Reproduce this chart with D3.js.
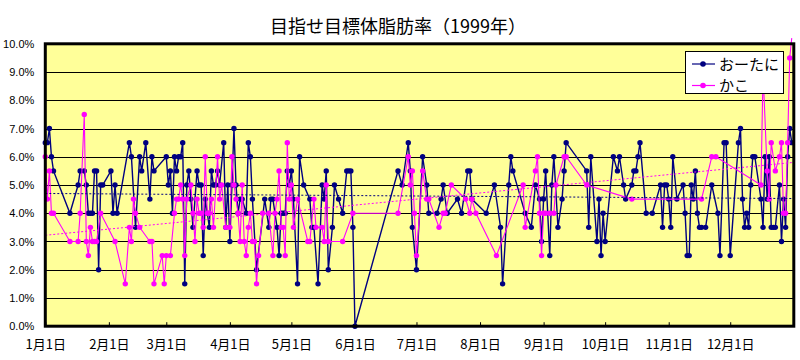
<!DOCTYPE html>
<html><head><meta charset="utf-8">
<script src="https://cdn.jsdelivr.net/npm/d3@7"></script>
<style>body{margin:0;background:#fff}</style>
</head><body>
<svg id="c" width="800" height="360"></svg>
<script>
const title = "目指せ目標体脂肪率（1999年）";
const seriesNames = ["おーたに", "かこ"];
const monthLabels = ["1月1日","2月1日","3月1日","4月1日","5月1日","6月1日","7月1日","8月1日","9月1日","10月1日","11月1日","12月1日"];
const yTicks = [0,1,2,3,4,5,6,7,8,9,10];

// day offsets from 1999-01-01, values in %
const otaniDays = [0,1,2,3,4,12,16,17,19,20,21,22,23,24,25,26,27,28,32,33,34,35,41,42,44,46,47,49,51,52,53,59,60,61,62,63,64,65,66,67,68,69,70,71,72,74,75,76,77,78,79,80,81,82,83,84,85,87,88,89,90,91,92,93,94,95,96,98,99,100,101,103,107,109,110,111,113,114,115,116,117,118,119,120,121,123,124,126,129,130,131,133,135,136,137,138,140,141,143,145,147,148,149,150,151,172,174,177,178,179,181,184,186,187,191,193,194,196,201,203,206,207,208,215,219,222,223,226,227,228,234,237,239,241,242,243,244,246,247,248,250,252,253,254,264,265,266,269,270,271,272,273,277,279,280,282,283,286,287,288,289,290,293,296,300,301,302,303,304,305,306,308,311,312,313,314,315,316,317,318,319,320,322,325,328,329,331,332,334,338,339,340,341,342,343,344,345,346,349,350,351,352,353,354,355,356,358,359,360,361,362,363,364];
const otaniVals = [6.5,6.5,7.0,6.0,5.5,4.0,5.0,5.5,5.5,5.0,4.0,4.0,4.0,5.5,5.5,2.0,5.0,5.0,5.5,4.0,5.0,4.0,6.5,6.0,3.5,6.0,5.5,6.5,4.5,6.0,5.5,6.0,5.0,5.5,4.0,6.0,5.5,6.0,6.0,6.5,1.5,5.0,5.5,4.5,3.5,5.5,5.0,5.0,2.5,4.5,4.0,3.5,5.5,5.0,5.0,5.5,5.0,6.5,3.5,5.0,3.0,5.0,7.0,5.0,4.0,4.5,4.5,4.0,6.5,6.0,4.5,2.0,4.5,3.5,4.5,4.5,3.5,2.5,4.0,4.0,4.0,5.5,5.0,5.5,4.5,1.5,6.0,5.0,4.5,3.5,3.5,1.5,5.0,4.5,5.5,2.0,3.5,5.0,4.5,4.0,5.5,5.5,5.5,3.5,0.0,5.5,5.0,6.5,5.5,3.5,2.0,6.0,5.0,4.0,4.0,4.5,5.0,4.0,4.5,4.0,5.5,5.5,4.5,4.0,5.0,3.5,1.5,5.0,6.0,5.5,4.0,3.5,5.0,4.5,3.0,4.5,5.5,2.5,5.0,6.0,3.5,4.5,5.5,6.5,5.5,3.5,6.0,3.0,4.5,2.5,4.0,3.0,6.0,5.5,6.0,5.0,4.5,5.0,5.5,5.5,6.0,6.5,4.0,4.0,5.0,3.5,5.0,5.0,4.5,3.5,6.0,4.5,5.0,4.0,2.5,2.5,5.0,4.5,5.5,4.0,3.5,3.5,3.5,5.0,4.0,2.5,6.5,6.5,2.5,6.5,7.0,4.5,3.5,4.0,3.5,5.0,6.0,6.0,4.5,3.5,6.0,4.5,6.0,3.5,3.5,3.5,5.0,3.0,4.5,3.5,6.0,7.0,6.5];

const kakoDays = [0,1,2,3,4,12,16,17,19,20,21,22,23,24,25,27,34,39,41,42,43,44,46,51,52,53,57,58,59,61,63,64,65,66,67,68,69,71,72,73,74,75,76,77,78,79,80,81,82,84,85,86,88,90,91,92,93,94,95,96,97,98,99,100,101,102,103,104,106,109,111,112,113,114,115,116,117,118,119,120,121,123,128,129,131,132,135,136,137,138,145,150,172,177,178,179,180,181,184,186,187,192,194,195,198,205,207,208,210,220,233,234,239,240,241,242,243,244,246,248,249,253,254,264,286,320,325,327,349,350,352,353,354,356,358,359,360,361,362,363,364];
const kakoVals = [6.0,4.5,5.5,4.0,4.0,3.0,3.0,4.0,7.5,3.0,2.5,3.5,3.0,3.0,3.0,4.0,3.0,1.5,3.5,3.0,4.5,4.0,3.5,3.0,3.0,1.5,2.5,1.5,2.5,2.5,4.0,4.5,4.5,5.0,4.5,2.5,4.5,5.0,4.0,3.0,4.5,4.0,4.0,3.5,6.0,4.0,4.0,4.5,3.5,6.0,4.5,5.0,3.5,3.5,6.0,5.0,4.5,4.0,3.0,5.0,3.0,2.5,3.5,4.0,3.0,3.0,1.5,2.5,4.0,4.0,2.5,4.0,4.5,5.5,3.5,3.5,2.5,6.5,4.5,5.0,3.5,4.5,3.0,3.0,4.5,3.5,3.5,3.0,5.0,3.0,3.0,4.0,4.0,6.0,5.0,5.5,4.0,2.5,5.5,4.5,4.5,3.5,4.0,4.0,5.0,4.5,4.0,4.5,4.0,2.5,5.0,3.5,5.5,6.0,4.0,2.5,4.0,4.0,4.0,4.0,5.0,6.0,6.0,5.0,4.5,4.5,6.0,6.0,5.0,9.0,5.5,4.5,6.5,5.5,6.0,6.5,4.0,4.0,6.5,9.5,10.2];

// linear trend lines, start/end
const trendDays = [0, 365];
const otaniTrend = [4.70, 4.52];
const kakoTrend = [3.22, 5.80];

const colors = ["#000080", "#FF00FF"];
const t0 = new Date(1999, 0, 1);
const toDate = d => d3.timeDay.offset(t0, d);

const svg = d3.select("#c");
const L = 45.3, R = 793.8, T = 43.8, B = 326.2;
const x = d3.scaleTime().domain([t0, new Date(2000, 0, 1)]).range([L, R]);
const y = d3.scaleLinear().domain([0, 10]).range([B, T]);

svg.append("defs").append("clipPath").attr("id", "mk")
  .append("rect").attr("x", 0).attr("y", T - 2).attr("width", 800).attr("height", 360);

// plot background
svg.append("rect").attr("x", L).attr("y", T).attr("width", R - L).attr("height", B - T).attr("fill", "#FFFF99");

// gridlines
svg.append("g").selectAll("line").data(yTicks.slice(1, -1)).join("line")
  .attr("x1", L).attr("x2", R).attr("y1", d => Math.round(y(d)) + 0.5).attr("y2", d => Math.round(y(d)) + 0.5)
  .attr("stroke", "#000").attr("stroke-width", 1);

// y axis labels
const yAxis = svg.append("g").attr("transform", `translate(${L},0)`)
  .call(d3.axisLeft(y).tickValues(yTicks).tickFormat(d => d.toFixed(1) + "%").tickSize(0).tickPadding(11));
yAxis.select(".domain").remove();
yAxis.selectAll("text").attr("font-family", "'Liberation Sans', Arial, sans-serif").attr("font-size", 11).attr("fill", "#000");

// x axis
const months = d3.timeMonth.range(t0, new Date(1999, 11, 2));
const xAxis = svg.append("g").attr("transform", `translate(0,${B})`)
  .call(d3.axisBottom(x).tickValues(months).tickFormat((d, i) => monthLabels[i]).tickSizeInner(-4).tickSizeOuter(0).tickPadding(14));
xAxis.select(".domain").remove();
xAxis.selectAll("line").attr("stroke", "#000");
xAxis.selectAll("text").attr("font-family", "'Noto Sans CJK JP', sans-serif").attr("font-size", 13).attr("fill", "#000");

// series
const series = [
  { days: otaniDays, vals: otaniVals, trend: otaniTrend },
  { days: kakoDays, vals: kakoVals, trend: kakoTrend }
];
const line = d3.line().x(p => x(toDate(p[0]))).y(p => y(p[1]));
series.forEach((s, i) => {
  const pts = s.days.map((d, j) => [d, s.vals[j]]);
  svg.append("path").datum(pts).attr("d", line).attr("fill", "none")
    .attr("stroke", colors[i]).attr("stroke-width", i === 0 ? 1.4 : 1.1);
  svg.append("g").attr("clip-path", "url(#mk)").selectAll("circle").data(pts.filter(p => p[1] <= 10)).join("circle")
    .attr("cx", p => x(toDate(p[0]))).attr("cy", p => y(p[1])).attr("r", 2.7)
    .attr("fill", colors[i]);
});
series.forEach((s, i) => {
  const pts = trendDays.map((d, j) => [d, s.trend[j]]);
  svg.append("path").datum(pts).attr("d", line).attr("fill", "none")
    .attr("stroke", colors[i]).attr("stroke-width", 1).attr("stroke-dasharray", "2,2");
});

// plot border
svg.append("rect").attr("x", L).attr("y", T).attr("width", R - L).attr("height", B - T)
  .attr("fill", "none").attr("stroke", "#000").attr("stroke-width", 3);

// legend
const lg = svg.append("g");
lg.append("rect").attr("x", 685.5).attr("y", 51.5).attr("width", 98).attr("height", 42)
  .attr("fill", "#fff").attr("stroke", "#000").attr("stroke-width", 1);
seriesNames.forEach((n, i) => {
  const yy = 64 + i * 21.5;
  lg.append("line").attr("x1", 692).attr("x2", 715).attr("y1", yy).attr("y2", yy).attr("stroke", colors[i]).attr("stroke-width", 1.2);
  lg.append("circle").attr("cx", 703).attr("cy", yy).attr("r", 2.8).attr("fill", colors[i]);
  lg.append("text").attr("x", 719).attr("y", yy + 5.5).text(n)
    .attr("font-family", "'Noto Sans CJK JP', sans-serif").attr("font-size", 15).attr("fill", "#000");
});

// title
svg.append("text").attr("x", 398).attr("y", 32.5).attr("text-anchor", "middle").text(title)
  .attr("font-family", "'Noto Sans CJK JP', sans-serif").attr("font-size", 18).attr("fill", "#000");
</script>
</body></html>
